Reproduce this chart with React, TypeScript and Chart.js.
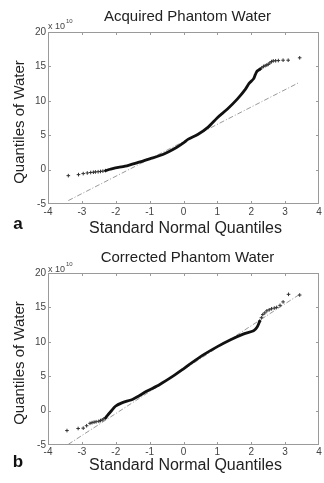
import React, { useEffect, useRef } from "react";
import { Chart, registerables } from "chart.js";

Chart.register(...registerables);

const FONT = "'Liberation Sans', Arial, Helvetica, sans-serif";

// Axis tick values (shared by both panels)
const xTicks = [-4, -3, -2, -1, 0, 1, 2, 3, 4];
const yTicks = [-5, 0, 5, 10, 15, 20];

// Panel a: Acquired Phantom Water (values in units of 1e10)
const acqLowTailX = [-3.4, -3.1, -2.96, -2.84, -2.74, -2.66, -2.6, -2.52, -2.45, -2.38, -2.3];
const acqLowTailY = [-0.88, -0.73, -0.58, -0.49, -0.42, -0.38, -0.34, -0.31, -0.27, -0.22, -0.15];
const acqBodyX = [-2.3, -2.16, -2.01, -1.72, -1.38, -1.0, -0.61, -0.22, 0.02, 0.13, 0.42, 0.71, 1.0, 1.29, 1.58, 1.83, 1.93, 2.07, 2.12, 2.17, 2.26];
const acqBodyY = [-0.15, 0.05, 0.24, 0.49, 0.97, 1.56, 2.19, 3.17, 3.95, 4.39, 5.1, 6.1, 7.55, 8.77, 10.2, 11.7, 12.5, 13.2, 13.8, 14.3, 14.6];
const acqHighTailX = [2.26, 2.31, 2.36, 2.41, 2.46, 2.5, 2.55, 2.6, 2.65, 2.72, 2.8, 2.94, 3.09, 3.43];
const acqHighTailY = [14.6, 14.8, 15.0, 15.1, 15.2, 15.3, 15.5, 15.7, 15.8, 15.82, 15.85, 15.9, 15.9, 16.25];
const acqRefX = [-3.4, 3.43];
const acqRefY = [-4.5, 12.7];

// Panel b: Corrected Phantom Water (values in units of 1e10)
const corLowTailX = [-3.44, -3.11, -2.96, -2.86, -2.76, -2.7, -2.64, -2.58, -2.5, -2.45, -2.4, -2.35, -2.3];
const corLowTailY = [-2.9, -2.6, -2.55, -2.2, -1.85, -1.75, -1.68, -1.62, -1.55, -1.45, -1.35, -1.2, -1.05];
const corBodyX = [-2.3, -2.25, -2.14, -2.01, -1.82, -1.48, -1.09, -0.7, -0.31, -0.02, 0.23, 0.62, 1.0, 1.39, 1.78, 2.07, 2.17, 2.25];
const corBodyY = [-1.05, -0.73, -0.1, 0.63, 1.12, 1.7, 2.8, 3.8, 5.0, 6.0, 6.9, 8.2, 9.3, 10.3, 11.15, 11.6, 12.1, 13.0];
const corHighTailX = [2.25, 2.3, 2.34, 2.4, 2.46, 2.53, 2.6, 2.68, 2.75, 2.85, 2.94, 3.1, 3.43];
const corHighTailY = [13.0, 13.5, 13.95, 14.2, 14.5, 14.65, 14.8, 14.9, 15.0, 15.3, 15.8, 16.9, 16.8];
const corRefX = [-3.4, 3.43];
const corRefY = [-4.9, 16.9];

const toPts = (xs: number[], ys: number[]) => xs.map((x, i) => ({ x, y: ys[i] }));

type Panel = {
  title: string;
  letter: string;
  padTop: number;
  xScaleHeight: number;
  tickPad: number;
  titleY: number;
  expY: number;
  xTitleY: number;
  letterY: number;
  lowX: number[]; lowY: number[];
  bodyX: number[]; bodyY: number[];
  highX: number[]; highY: number[];
  refX: number[]; refY: number[];
};

function makeConfig(p: Panel): any {
  const decor = {
    id: "decor",
    beforeDraw(chart: any) {
      const c = chart.ctx;
      c.save();
      c.fillStyle = "#ffffff";
      c.fillRect(0, 0, chart.width, chart.height);
      c.restore();
    },
    afterDraw(chart: any) {
      const c = chart.ctx;
      const a = chart.chartArea;
      const xs = chart.scales.x;
      const ys = chart.scales.y;
      c.save();
      // box
      c.strokeStyle = "#9a9a9a";
      c.lineWidth = 1;
      c.strokeRect(a.left + 0.5, a.top + 0.5, a.right - a.left - 1, a.bottom - a.top - 1);
      // inward ticks
      c.beginPath();
      xTicks.forEach((v) => {
        const px = Math.round(xs.getPixelForValue(v)) + 0.5;
        if (px <= a.left + 1 || px >= a.right - 1) return;
        c.moveTo(px, a.bottom); c.lineTo(px, a.bottom - 3);
        c.moveTo(px, a.top); c.lineTo(px, a.top + 3);
      });
      yTicks.forEach((v) => {
        const py = Math.round(ys.getPixelForValue(v)) + 0.5;
        if (py <= a.top + 1 || py >= a.bottom - 1) return;
        c.moveTo(a.left, py); c.lineTo(a.left + 3, py);
        c.moveTo(a.right, py); c.lineTo(a.right - 3, py);
      });
      c.stroke();
      // title
      c.fillStyle = "#222";
      c.textAlign = "center";
      c.textBaseline = "middle";
      c.font = `15px ${FONT}`;
      c.fillText(p.title, (a.left + a.right) / 2 + 4, p.titleY);
      // x title
      c.font = `16px ${FONT}`;
      c.fillText("Standard Normal Quantiles", (a.left + a.right) / 2 + 2, p.xTitleY);
      // y title
      c.save();
      c.translate(20, (a.top + a.bottom) / 2 + 4);
      c.rotate(-Math.PI / 2);
      c.font = `15px ${FONT}`;
      c.fillText("Quantiles of Water", 0, 0);
      c.restore();
      // panel letter
      c.font = `bold 17px ${FONT}`;
      c.textAlign = "center";
      c.fillStyle = "#111";
      c.fillText(p.letter, 18, p.letterY);
      // exponent
      c.fillStyle = "#444";
      c.textAlign = "left";
      c.font = `9px ${FONT}`;
      c.fillText("x 10", a.left, p.expY);
      c.font = `6px ${FONT}`;
      c.fillText("10", a.left + 18, p.expY - 6);
      c.restore();
    },
  };

  return {
    type: "scatter",
    data: {
      datasets: [
        {
          label: "body",
          data: toPts(p.bodyX, p.bodyY),
          showLine: true,
          borderColor: "#111111",
          backgroundColor: "#111111",
          borderWidth: 2.8,
          pointRadius: 0,
          tension: 0.25,
          borderCapStyle: "round",
        },
        {
          label: "low",
          data: toPts(p.lowX, p.lowY),
          showLine: false,
          pointStyle: "cross",
          pointRadius: 1.8,
          borderColor: "#333333",
          borderWidth: 1,
        },
        {
          label: "high",
          data: toPts(p.highX, p.highY),
          showLine: false,
          pointStyle: "cross",
          pointRadius: 1.8,
          borderColor: "#333333",
          borderWidth: 1,
        },
        {
          label: "ref",
          data: toPts(p.refX, p.refY),
          showLine: true,
          borderColor: "#9a9a9a",
          borderWidth: 1,
          borderDash: [5, 2, 1, 2],
          pointRadius: 0,
        },
      ],
    },
    options: {
      responsive: false,
      animation: false,
      devicePixelRatio: 1,
      layout: { padding: { top: p.padTop, right: 0, left: 0, bottom: 0 } },
      plugins: { legend: { display: false }, tooltip: { enabled: false }, title: { display: false } },
      scales: {
        x: {
          type: "linear",
          min: -4,
          max: 4,
          afterBuildTicks: (s: any) => { s.ticks = xTicks.map((v) => ({ value: v })); },
          afterFit: (s: any) => { s.height = p.xScaleHeight; s.paddingLeft = 0; s.paddingRight = 0; },
          grid: { display: false, drawTicks: false },
          border: { display: false },
          ticks: { padding: p.tickPad, color: "#444", font: { family: FONT, size: 10 }, maxRotation: 0, autoSkip: false },
        },
        y: {
          type: "linear",
          min: -5,
          max: 20,
          afterBuildTicks: (s: any) => { s.ticks = yTicks.map((v) => ({ value: v })); },
          afterFit: (s: any) => { s.width = 48; s.paddingTop = 0; s.paddingBottom = 0; },
          grid: { display: false, drawTicks: false },
          border: { display: false },
          ticks: { padding: 2, color: "#444", font: { family: FONT, size: 10 }, autoSkip: false },
        },
      },
    },
    plugins: [decor],
  };
}

const panelA: Panel = {
  title: "Acquired Phantom Water",
  letter: "a",
  padTop: 32,
  xScaleHeight: 36,
  tickPad: 2,
  titleY: 17,
  expY: 27,
  xTitleY: 229,
  letterY: 224,
  lowX: acqLowTailX, lowY: acqLowTailY,
  bodyX: acqBodyX, bodyY: acqBodyY,
  highX: acqHighTailX, highY: acqHighTailY,
  refX: acqRefX, refY: acqRefY,
};

const panelB: Panel = {
  title: "Corrected Phantom Water",
  letter: "b",
  padTop: 33,
  xScaleHeight: 38,
  tickPad: 1,
  titleY: 18,
  expY: 30,
  xTitleY: 226,
  letterY: 222,
  lowX: corLowTailX, lowY: corLowTailY,
  bodyX: corBodyX, bodyY: corBodyY,
  highX: corHighTailX, highY: corHighTailY,
  refX: corRefX, refY: corRefY,
};

function QQChart({ panel, height }: { panel: Panel; height: number }) {
  const ref = useRef<HTMLCanvasElement | null>(null);
  useEffect(() => {
    if (!ref.current) return;
    const chart = new Chart(ref.current, makeConfig(panel));
    return () => chart.destroy();
  }, [panel]);
  return <canvas ref={ref} width={324} height={height} style={{ display: "block", width: 324, height }} />;
}

export default function App() {
  return (
    <div style={{ position: "absolute", left: 0, top: 0, width: 324, height: 483, background: "#fff", overflow: "hidden" }}>
      <QQChart panel={panelA} height={240} />
      <QQChart panel={panelB} height={243} />
    </div>
  );
}
